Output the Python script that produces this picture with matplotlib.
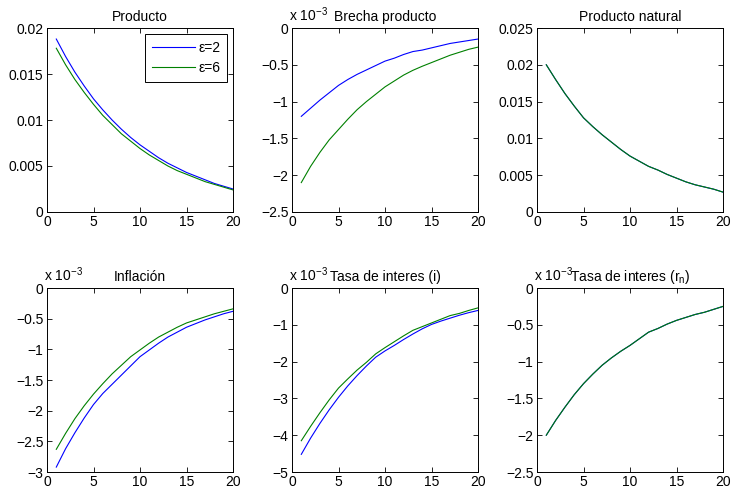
import matplotlib
matplotlib.use('Agg')
import matplotlib.pyplot as plt
from matplotlib.ticker import FuncFormatter, MultipleLocator

plt.rcParams['font.family'] = ['Liberation Sans', 'DejaVu Sans']
plt.rcParams['font.size'] = 10
plt.rcParams['mathtext.fontset'] = 'custom'
plt.rcParams['mathtext.rm'] = 'Liberation Sans'
plt.rcParams['mathtext.it'] = 'Liberation Sans'

# -------------------------------------------------
# Data (impulse responses, periods 1..20)
# -------------------------------------------------
periods = list(range(1, 21))
legend_labels = ['\u03b5=2', '\u03b5=6']

producto_e2 = [0.0188, 0.0169, 0.0152, 0.0137, 0.0123, 0.0111, 0.0100, 0.0090, 0.0081, 0.0073,
               0.0066, 0.0059, 0.0053, 0.0048, 0.0043, 0.0039, 0.0035, 0.0031, 0.0028, 0.0025]
producto_e6 = [0.0178, 0.0160, 0.0144, 0.0130, 0.0117, 0.0105, 0.0095, 0.0085, 0.0077, 0.0069,
               0.0062, 0.0056, 0.0050, 0.0045, 0.0041, 0.0037, 0.0033, 0.0030, 0.0027, 0.0024]

brecha_e2 = [-1.20e-3, -1.09e-3, -0.98e-3, -0.88e-3, -0.78e-3, -0.70e-3, -0.63e-3, -0.57e-3, -0.51e-3, -0.45e-3,
             -0.41e-3, -0.36e-3, -0.32e-3, -0.30e-3, -0.27e-3, -0.24e-3, -0.21e-3, -0.19e-3, -0.17e-3, -0.15e-3]
brecha_e6 = [-2.10e-3, -1.88e-3, -1.69e-3, -1.52e-3, -1.38e-3, -1.24e-3, -1.11e-3, -1.00e-3, -0.90e-3, -0.80e-3,
             -0.72e-3, -0.64e-3, -0.575e-3, -0.52e-3, -0.47e-3, -0.42e-3, -0.37e-3, -0.33e-3, -0.29e-3, -0.26e-3]

natural_e2 = [0.0200, 0.0180, 0.0161, 0.0144, 0.0128, 0.0116, 0.0105, 0.0095, 0.0085, 0.0076,
              0.0069, 0.0062, 0.0057, 0.0051, 0.0046, 0.0041, 0.0037, 0.0034, 0.0031, 0.0027]
natural_e6 = natural_e2

inflacion_e2 = [-2.92e-3, -2.62e-3, -2.36e-3, -2.12e-3, -1.90e-3, -1.72e-3, -1.57e-3, -1.42e-3, -1.27e-3, -1.12e-3,
                -1.01e-3, -0.90e-3, -0.80e-3, -0.72e-3, -0.64e-3, -0.58e-3, -0.52e-3, -0.47e-3, -0.42e-3, -0.38e-3]
inflacion_e6 = [-2.63e-3, -2.37e-3, -2.13e-3, -1.92e-3, -1.73e-3, -1.56e-3, -1.40e-3, -1.26e-3, -1.12e-3, -1.01e-3,
                -0.90e-3, -0.80e-3, -0.72e-3, -0.64e-3, -0.57e-3, -0.52e-3, -0.47e-3, -0.42e-3, -0.38e-3, -0.34e-3]

tasa_i_e2 = [-4.52e-3, -4.08e-3, -3.68e-3, -3.31e-3, -2.97e-3, -2.66e-3, -2.38e-3, -2.12e-3, -1.88e-3, -1.71e-3,
             -1.56e-3, -1.40e-3, -1.25e-3, -1.11e-3, -0.99e-3, -0.90e-3, -0.82e-3, -0.74e-3, -0.67e-3, -0.61e-3]
tasa_i_e6 = [-4.15e-3, -3.76e-3, -3.39e-3, -3.04e-3, -2.72e-3, -2.47e-3, -2.23e-3, -2.02e-3, -1.79e-3, -1.62e-3,
             -1.46e-3, -1.30e-3, -1.15e-3, -1.05e-3, -0.95e-3, -0.85e-3, -0.75e-3, -0.69e-3, -0.61e-3, -0.54e-3]

tasa_rn_e2 = [-2.00e-3, -1.80e-3, -1.62e-3, -1.45e-3, -1.30e-3, -1.17e-3, -1.05e-3, -0.95e-3, -0.86e-3, -0.78e-3,
              -0.69e-3, -0.60e-3, -0.55e-3, -0.49e-3, -0.44e-3, -0.40e-3, -0.36e-3, -0.33e-3, -0.29e-3, -0.25e-3]
tasa_rn_e6 = tasa_rn_e2

# title, series pair, y-limits, y-step, scaled by 1e-3?
panels = [
    ('Producto', producto_e2, producto_e6, (0, 0.02), 0.005, False),
    ('Brecha producto', brecha_e2, brecha_e6, (-2.5e-3, 0), 0.5e-3, True),
    ('Producto natural', natural_e2, natural_e6, (0, 0.025), 0.005, False),
    ('Inflaci\u00f3n', inflacion_e2, inflacion_e6, (-3e-3, 0), 0.5e-3, True),
    ('Tasa de interes (i)', tasa_i_e2, tasa_i_e6, (-5e-3, 0), 1e-3, True),
    ('Tasa de interes (r$_\\mathregular{n}$)', tasa_rn_e2, tasa_rn_e6, (-2.5e-3, 0), 0.5e-3, True),
]

W, H = 733, 488
lefts = [47, 292, 537]
tops = [28, 288]
aw, ah = 186, 184

BLUE = '#0000ff'
GREEN = '#008000'


def fmt_plain(v, pos):
    s = '%g' % round(v, 6)
    return s.replace('-', '\u2212')


def fmt_milli(v, pos):
    s = '%g' % round(v * 1e3, 6)
    return s.replace('-', '\u2212')


fig = plt.figure(figsize=(W / 100, H / 100), dpi=100)

for i, (title, s2, s6, ylim, step, milli) in enumerate(panels):
    r, c = divmod(i, 3)
    ax = fig.add_axes([lefts[c] / W, 1 - (tops[r] + ah) / H, aw / W, ah / H])
    ax.plot(periods, s2, color=BLUE, linewidth=0.8, label=legend_labels[0])
    ax.plot(periods, s6, color=GREEN, linewidth=0.8, label=legend_labels[1])
    ax.set_xlim(0, 20)
    ax.set_ylim(*ylim)
    ax.xaxis.set_major_locator(MultipleLocator(5))
    ax.yaxis.set_major_locator(MultipleLocator(step))
    ax.yaxis.set_major_formatter(FuncFormatter(fmt_milli if milli else fmt_plain))
    ax.xaxis.set_major_formatter(FuncFormatter(fmt_plain))
    ax.tick_params(direction='in', top=True, right=True, length=3.5, width=0.6, pad=2.5)
    for sp in ax.spines.values():
        sp.set_linewidth(0.7)
    ax.set_title(title, fontsize=10, pad=5)
    if milli:
        ax.text(-0.015, 1.02, 'x 10$^{\\mathregular{\u22123}}$', transform=ax.transAxes,
                ha='left', va='bottom', fontsize=10)
    if i == 0:
        leg = ax.legend(loc='upper right', fancybox=False, framealpha=1, edgecolor='black',
                        fontsize=10, handlelength=3.1, handletextpad=0.25, borderpad=0.5,
                        labelspacing=0.45, borderaxespad=0.4)
        leg.get_frame().set_linewidth(0.7)

plt.savefig('out.png', dpi=100)
